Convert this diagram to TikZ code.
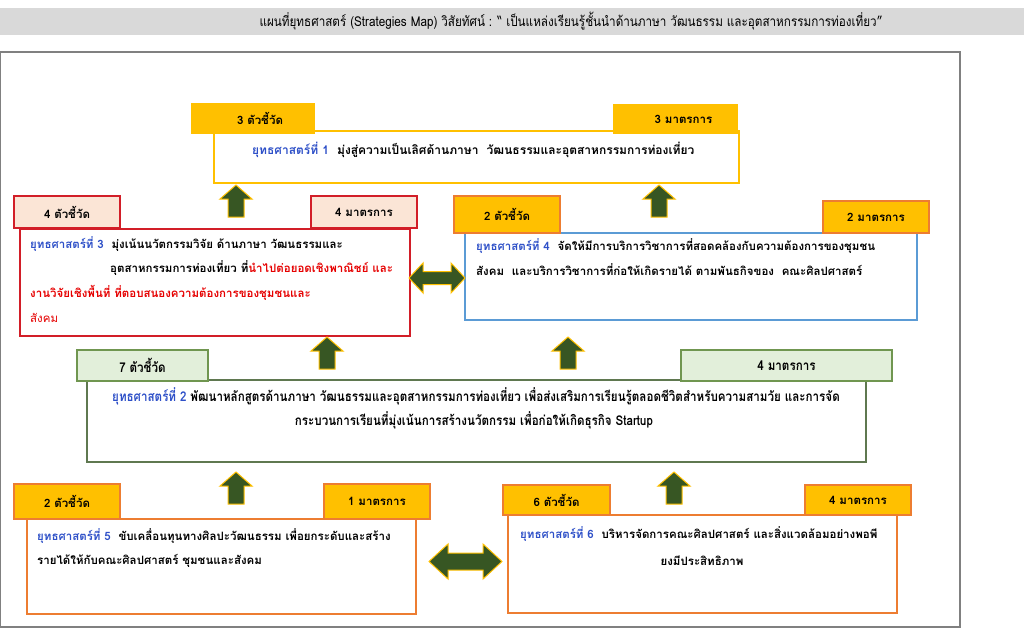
\documentclass[tikz,border=0pt]{standalone}
\usepackage{fontspec}
\setmainfont[Script=Thai]{Loma}
\newfontfamily\narrowfont[Script=Thai,FakeStretch=0.86]{Loma}
\usetikzlibrary{positioning}

\definecolor{gold}{RGB}{255,192,0}
\definecolor{leaf}{RGB}{55,86,35}
\definecolor{peach}{RGB}{251,229,214}
\definecolor{mint}{RGB}{226,239,218}
\definecolor{skyline}{RGB}{91,155,213}
\definecolor{rust}{RGB}{237,125,49}
\definecolor{brick}{RGB}{210,30,40}
\definecolor{alert}{RGB}{230,0,0}
\definecolor{navy}{RGB}{46,80,200}
\definecolor{framegray}{RGB}{128,128,128}
\definecolor{moss}{RGB}{95,120,80}
\definecolor{grass}{RGB}{112,150,80}

\newcommand\planfont{\fontsize{11.5}{14}\selectfont}
\newcommand\thinfont{\narrowfont\fontsize{13.5}{16}\selectfont}

\tikzset{
  plan/.style={draw=#1, line width=1.2pt, fill=white, inner sep=0pt},
  tab/.style 2 args={draw=#1, fill=#2, line width=1.2pt, inner sep=0pt, font=\bfseries\planfont},
  body/.style={anchor=base west, inner sep=0pt, font=\bfseries\planfont},
  pics/uparrow/.style={code={
    \filldraw[fill=leaf, draw=gold, line width=1pt] (0,0) -- (16,14) -- (8,14) -- (8,32)
      -- (-8,32) -- (-8,14) -- (-16,14) -- cycle;}},
  pics/twoway/.style n args={4}{code={
    \filldraw[fill=leaf, draw=gold, line width=1pt] (-#1,0) -- (-#1+#4,-#2) -- (-#1+#4,-#3)
      -- (#1-#4,-#3) -- (#1-#4,-#2) -- (#1,0) -- (#1-#4,#2) -- (#1-#4,#3)
      -- (-#1+#4,#3) -- (-#1+#4,#2) -- cycle;}},
}

\begin{document}
\begin{tikzpicture}[x=1pt, y=-1pt]
\useasboundingbox (0,0) rectangle (1024,629);

% title and frame
\fill[black!15] (0,8) rectangle (1024,35);
\node[inner sep=0pt, font=\narrowfont\fontsize{13.6}{16}\selectfont] (title) at (571,21.5)
  {แผนที่ยุทธศาสตร์ (Strategies Map) วิสัยทัศน์ : “ เป็นแหล่งเรียนรู้ชั้นนำด้านภาษา วัฒนธรรม และอุตสาหกรรมการท่องเที่ยว”};
\draw[framegray, line width=1.2pt] (0.6,52) rectangle (960,627);

% strategy 1
\node[plan=gold, minimum width=525pt, minimum height=52pt] (s1) at (476.5,157) {};
\node[tab={gold}{gold}, minimum width=122pt, minimum height=29pt, text depth=0pt] (s1k) at (253,118.5) {\hspace{14pt}3 ตัวชี้วัด};
\node[tab={gold}{gold}, minimum width=123pt, minimum height=28pt] (s1m) at (675.5,119) {\hspace{16pt}3 มาตรการ};
\node[body, font=\bfseries\fontsize{12}{14}\selectfont] (t1) at (252,154) {\textcolor{navy}{ยุทธศาสตร์ที่ 1}\ \ มุ่งสู่ความเป็นเลิศด้านภาษา\ \ วัฒนธรรมและอุตสาหกรรมการท่องเที่ยว};
\pic at (236,185) {uparrow};
\pic at (659,185) {uparrow};

% strategy 3
\node[plan=brick, minimum width=390pt, minimum height=107pt] (s3) at (215,282.5) {};
\node[tab={brick}{peach}, minimum width=106pt, minimum height=32pt] (s3k) at (67,212) {4 ตัวชี้วัด};
\node[tab={brick}{peach}, minimum width=106pt, minimum height=32pt] (s3m) at (364,212) {4 มาตรการ};
\node[body] (t3a) at (30,248) {\textcolor{navy}{ยุทธศาสตร์ที่ 3}\ \ มุ่งเน้นนวัตกรรมวิจัย ด้านภาษา วัฒนธรรมและ};
\node[body] (t3b) at (110,272) {อุตสาหกรรมการท่องเที่ยว ที่\textcolor{alert}{นำไปต่อยอดเชิงพาณิชย์ และ}};
\node[body, text=alert] (t3c) at (30,297) {งานวิจัยเชิงพื้นที่ ที่ตอบสนองความต้องการของชุมชนและ};
\node[body, text=alert, font=\planfont] (t3d) at (30,322) {สังคม};

% strategy 4
\node[plan=skyline, minimum width=452pt, minimum height=87pt] (s4) at (691,276.5) {};
\node[tab={rust}{gold}, minimum width=106pt, minimum height=37pt] (s4k) at (507,214.5) {2 ตัวชี้วัด};
\node[tab={rust}{gold}, minimum width=106pt, minimum height=32pt] (s4m) at (876,217) {2 มาตรการ};
\node[body] (t4a) at (476,250) {\textcolor{navy}{ยุทธศาสตร์ที่ 4}\ \ จัดให้มีการบริการวิชาการที่สอดคล้องกับความต้องการของชุมชน};
\node[body] (t4b) at (476,275) {สังคม\ \ และบริการวิชาการที่ก่อให้เกิดรายได้ ตามพันธกิจของ\ \ คณะศิลปศาสตร์};
\pic at (437,278) {twoway={28}{15}{6.5}{14}};
\pic at (327,337) {uparrow};
\pic at (568,337) {uparrow};

% strategy 2
\node[plan=moss, minimum width=779pt, minimum height=82pt] (s2) at (476.5,421) {};
\node[tab={grass}{mint}, minimum width=131pt, minimum height=31pt, font=\bfseries\thinfont] (s2k) at (142.5,365.5) {7 ตัวชี้วัด};
\node[tab={grass}{mint}, minimum width=211pt, minimum height=31pt, font=\bfseries\thinfont] (s2m) at (786.5,365.5) {4 มาตรการ};
\node[body, anchor=base, font=\bfseries\thinfont] (t2a) at (476,401) {\textcolor{navy}{ยุทธศาสตร์ที่ 2} พัฒนาหลักสูตรด้านภาษา วัฒนธรรมและอุตสาหกรรมการท่องเที่ยว เพื่อส่งเสริมการเรียนรู้ตลอดชีวิตสำหรับความสามวัย และการจัด};
\node[body, anchor=base, font=\bfseries\thinfont] (t2b) at (474,425) {กระบวนการเรียนที่มุ่งเน้นการสร้างนวัตกรรม เพื่อก่อให้เกิดธุรกิจ Startup};
\pic at (236,472) {uparrow};
\pic at (674,472) {uparrow};

% strategy 5
\node[plan=rust, minimum width=389pt, minimum height=95pt] (s5) at (221.5,566.5) {};
\node[tab={rust}{gold}, minimum width=106pt, minimum height=35pt] (s5k) at (67,501.5) {2 ตัวชี้วัด};
\node[tab={rust}{gold}, minimum width=106pt, minimum height=35pt] (s5m) at (377,501.5) {1 มาตรการ};
\node[body] (t5a) at (37,540) {\textcolor{navy}{ยุทธศาสตร์ที่ 5}\ \ ขับเคลื่อนทุนทางศิลปะวัฒนธรรม เพื่อยกระดับและสร้าง};
\node[body] (t5b) at (37,564) {รายได้ให้กับคณะศิลปศาสตร์ ชุมชนและสังคม};

% strategy 6
\node[plan=rust, minimum width=389pt, minimum height=98pt] (s6) at (702.5,564) {};
\node[tab={rust}{gold}, minimum width=107pt, minimum height=30pt] (s6k) at (556.5,500) {6 ตัวชี้วัด};
\node[tab={rust}{gold}, minimum width=106pt, minimum height=30pt] (s6m) at (858,500) {4 มาตรการ};
\node[body] (t6a) at (520,538) {\textcolor{navy}{ยุทธศาสตร์ที่ 6}\ \ บริหารจัดการคณะศิลปศาสตร์ และสิ่งแวดล้อมอย่างพอพี};
\node[body, anchor=base] (t6b) at (702,565) {ยงมีประสิทธิภาพ};
\pic at (465.5,561.5) {twoway={36.5}{17.5}{8.5}{19}};
\end{tikzpicture}
\end{document}
